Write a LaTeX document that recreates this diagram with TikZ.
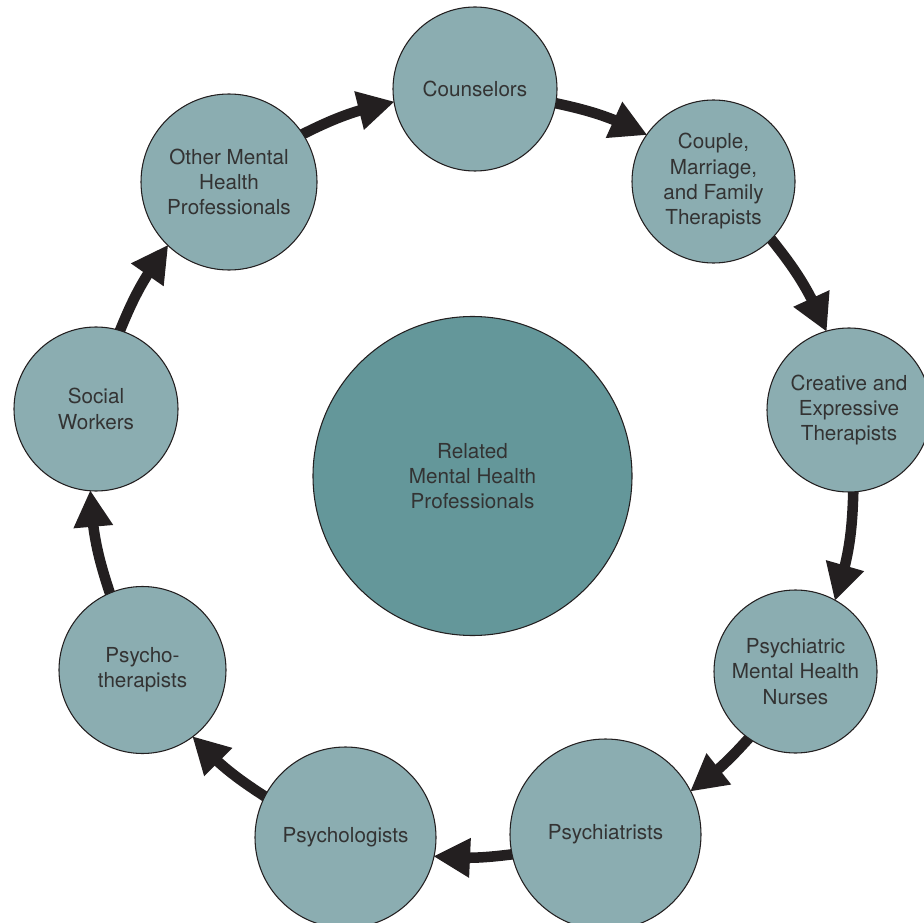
\documentclass[tikz,border=0pt]{standalone}
\usepackage{fontspec}
\setmainfont{TeX Gyre Heros}
\usetikzlibrary{arrows.meta,bending,backgrounds}
\definecolor{ringfill}{HTML}{8BADB1}
\definecolor{hubfill}{HTML}{64979A}
\definecolor{inkline}{HTML}{231F20}
\definecolor{txt}{HTML}{333333}
\begin{document}
\begin{tikzpicture}[x=0.75pt,y=0.75pt,
  prof/.style={circle,draw=inkline,line width=0.8pt,fill=ringfill,inner sep=0pt,outer sep=0pt,
    align=center,text=txt,font=\fontsize{15.5pt}{19pt}\selectfont},
  flow/.style={draw=inkline,line width=7.9pt,
    -{Triangle[length=27pt,width=30pt,line width=0pt]},shorten <=-3pt}
]
\useasboundingbox (0,0) rectangle (924,-923);
\clip (0,0) rectangle (924,-923);
\node[prof,fill=hubfill,minimum size=239.25pt] (hub) at (472.5,-476) {Related\\Mental Health\\Professionals};
\node[prof,minimum size=123pt] (couns) at (475,-89) {Counselors};
\node[prof,minimum size=122.25pt] (couple) at (713.5,-181.5) {Couple,\\Marriage,\\and Family\\Therapists};
\node[prof,minimum size=123pt] (creat) at (849,-410) {Creative and\\Expressive\\Therapists};
\node[prof,minimum size=122.25pt] (nurse) at (795.5,-671.5) {Psychiatric\\Mental Health\\Nurses};
\node[prof,minimum size=143.25pt] (psychiat) at (605.5,-834.5) {Psychiatrists};
\node[prof,minimum size=135.75pt] (psycholog) at (345.5,-837.5) {Psychologists};
\node[prof,minimum size=125.25pt] (psychoth) at (142.5,-670) {Psycho-\\therapists};
\node[prof,minimum size=123pt] (social) at (96,-409) {Social\\Workers};
\node[prof,minimum size=132pt] (other) at (229,-182) {Other Mental\\Health\\Professionals};
\begin{scope}[on background layer]
\draw[flow] (couns.350.03) to[bend left=7.2] (couple.145.86);
\draw[flow] (couple.315.65) to[bend left=8.1] (creat.106.29);
\draw[flow] (creat.273.63) to[bend left=8.3] (nurse.61.86);
\draw[flow] (nurse.235.75) to[bend left=5.9] (psychiat.27.77);
\draw[flow] (psychiat.192.95) to[bend left=5.9] (psycholog.348.13);
\draw[flow] (psycholog.153.12) to[bend left=7.0] (psychoth.307.25);
\draw[flow] (psychoth.113.65) to[bend left=7.8] (social.266.37);
\draw[flow] (social.73.49) to[bend left=7.4] (other.226.06);
\draw[flow] (other.33.19) to[bend left=7.3] (couns.189.2);
\end{scope}
\end{tikzpicture}
\end{document}
